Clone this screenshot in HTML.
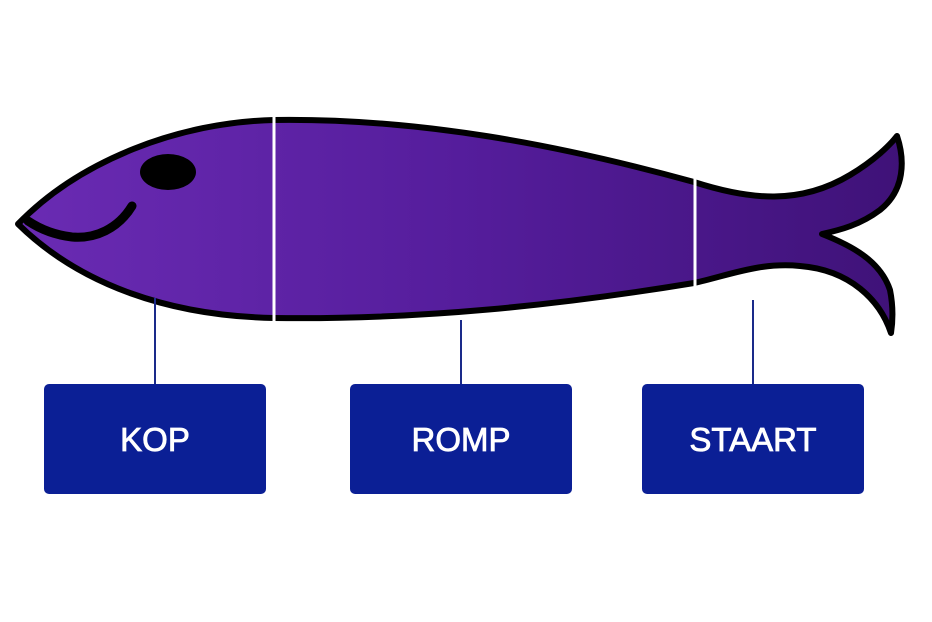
<!DOCTYPE html>
<html><head><meta charset="utf-8"><style>
html,body{margin:0;padding:0;background:#fff;}
svg{display:block;}
</style></head><body>
<svg width="932" height="622" viewBox="0 0 932 622" xmlns="http://www.w3.org/2000/svg">
<defs>
<linearGradient id="g" x1="0" x2="1" y1="0" y2="0">
<stop offset="0" stop-color="#6a2bb3"/>
<stop offset="0.5" stop-color="#551d9c"/>
<stop offset="1" stop-color="#3f1278"/>
</linearGradient>
</defs>
<path d="M18,224 C80,160 180,122 274,120 C420,118 560,145 694,182 C750,200 800,205 850,175 C875,160 890,145 897,136 C905,160 905,190 880,210 C860,225 840,230 822,234 C850,245 880,260 890,290 C893,305 893,320 891,333 C880,300 850,270 800,266 C760,262 730,275 694,283 C560,305 420,320 274,318 C170,316 80,285 18,224 Z" fill="url(#g)" stroke="#000" stroke-width="6" stroke-linejoin="round"/>
<ellipse cx="168" cy="172" rx="28" ry="18" fill="#000"/>
<path d="M132,206 C118,229 95,239 72,237 C55,235 40,229 28,221" fill="none" stroke="#000" stroke-width="9" stroke-linecap="round"/>
<line x1="274" y1="116" x2="274" y2="322" stroke="#fff" stroke-width="3"/>
<line x1="695" y1="177" x2="695" y2="288" stroke="#fff" stroke-width="3"/>
<g stroke="#1a2a8a" stroke-width="2">
<line x1="155" y1="298" x2="155" y2="384"/>
<line x1="461" y1="320" x2="461" y2="384"/>
<line x1="753" y1="300" x2="753" y2="384"/>
</g>
<g fill="#0b1f95">
<rect x="44" y="384" width="222" height="110" rx="5"/>
<rect x="350" y="384" width="222" height="110" rx="5"/>
<rect x="642" y="384" width="222" height="110" rx="5"/>
</g>
<g fill="#fff" font-family="Liberation Sans, sans-serif" font-size="33" text-anchor="middle" stroke="#fff" stroke-width="0.8">
<text x="155" y="451">KOP</text>
<text x="461" y="451">ROMP</text>
<text x="753" y="451">STAART</text>
</g>
</svg>
</body></html>
